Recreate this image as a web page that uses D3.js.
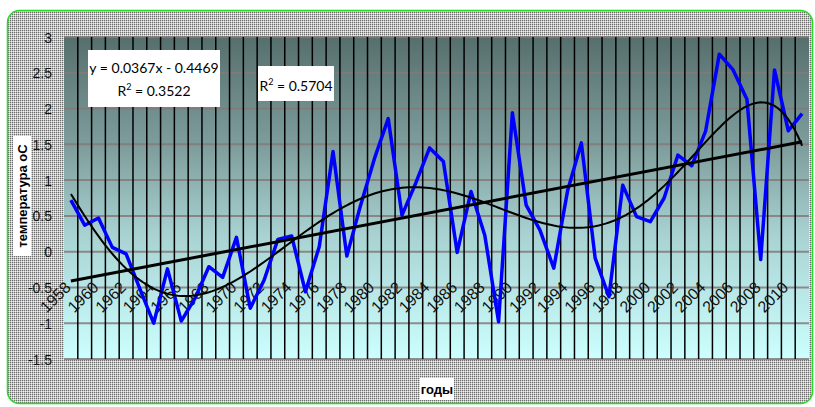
<!DOCTYPE html>
<html><head><meta charset="utf-8">
<script src="https://cdn.jsdelivr.net/npm/d3@7"></script>
<style>html,body{margin:0;padding:0;background:#fff;} svg{display:block;}</style>
</head><body>
<svg id="chart" width="815" height="407"></svg>
<script>
// ---- data ----
const years = d3.range(1958, 2012);
const temps = [0.72, 0.37, 0.47, 0.06, -0.03, -0.52, -1.0, -0.24, -0.97, -0.65,
  -0.21, -0.36, 0.20, -0.79, -0.40, 0.17, 0.22, -0.56, 0.07, 1.40,
  -0.06, 0.65, 1.30, 1.86, 0.51, 0.96, 1.45, 1.26, -0.01, 0.84,
  0.23, -0.98, 1.94, 0.65, 0.30, -0.23, 0.85, 1.52, -0.09, -0.63,
  0.93, 0.49, 0.42, 0.75, 1.35, 1.20, 1.68, 2.76, 2.54, 2.13,
  -0.11, 2.54, 1.69, 1.93];
const yTicks = [3, 2.5, 2, 1.5, 1, 0.5, 0, -0.5, -1, -1.5];
const xTickLabels = years.filter((y, i) => i % 2 === 0);
const linSlope = 0.0367, linIntercept = -0.4469;
const eqText1 = "y = 0.0367x - 0.4469";
const eqText2 = "0.3522";
const polyR2Text = "0.5704";
const polyOrder = 6;
const yLabel = "температура оС";
const xLabel = "годы";

// ---- layout ----
const svg = d3.select("#chart");
const plot = {left: 64, right: 809, top: 37, bottom: 359};
const x = d3.scaleBand().domain(years).range([plot.left, plot.right]).padding(0);
const xc = yr => x(yr) + x.bandwidth() / 2;
const xi = d3.scaleLinear().domain([1, years.length]).range([xc(years[0]), xc(years[years.length-1])]);
const y = d3.scaleLinear().domain([-1.5, 3]).range([plot.bottom, plot.top]);

const defs = svg.append("defs");
const pat = defs.append("pattern").attr("id", "dots").attr("width", 2).attr("height", 2)
  .attr("patternUnits", "userSpaceOnUse");
pat.append("rect").attr("width", 2).attr("height", 2).attr("fill", "#f2f2f2");
pat.append("rect").attr("x", 0).attr("y", 0).attr("width", 1).attr("height", 1).attr("fill", "#6c6c6c");
pat.append("rect").attr("x", 1).attr("y", 0).attr("width", 1).attr("height", 1).attr("fill", "#c4c4c4");
pat.append("rect").attr("x", 0).attr("y", 1).attr("width", 1).attr("height", 1).attr("fill", "#c4c4c4");

const grad = defs.append("linearGradient").attr("id", "bg").attr("x1", 0).attr("y1", 0).attr("x2", 0).attr("y2", 1);
[[0, "#566f6d"], [0.35, "#7f9f9e"], [0.62, "#a9d3d3"], [1, "#ccffff"]].forEach(s =>
  grad.append("stop").attr("offset", s[0]).attr("stop-color", s[1]));

// chart area
svg.append("rect").attr("x", 7.5).attr("y", 10.5).attr("width", 805).attr("height", 393)
  .attr("rx", 12).attr("fill", "url(#dots)").attr("stroke", "#22dd22").attr("stroke-width", 1.5);

// plot area
svg.append("rect").attr("x", plot.left).attr("y", plot.top)
  .attr("width", plot.right - plot.left).attr("height", plot.bottom - plot.top)
  .attr("fill", "url(#bg)");

// horizontal grid
svg.append("g").selectAll("line").data(yTicks).join("line")
  .attr("x1", plot.left).attr("x2", plot.right)
  .attr("y1", d => y(d)).attr("y2", d => y(d))
  .attr("stroke", "#857a7a").attr("stroke-width", 2).attr("opacity", 0.85);

// vertical grid (category boundaries)
const bounds = years.map(yr => x(yr)).concat([plot.right]);
svg.append("g").selectAll("line").data(bounds.slice(1, -1)).join("line")
  .attr("x1", d => d).attr("x2", d => d).attr("y1", plot.top).attr("y2", plot.bottom)
  .attr("stroke", "#000").attr("stroke-width", 1.5);

// y tick labels
svg.append("g").selectAll("text").data(yTicks).join("text")
  .attr("x", 52).attr("y", d => y(d)).attr("dy", "0.4em")
  .attr("text-anchor", "end").attr("font-family", "Liberation Sans, Arial, sans-serif")
  .attr("font-size", 14).attr("fill", "#111").text(d => d);

// x tick labels (axis crosses at -0.5)
const axisY = y(-0.5);
svg.append("g").selectAll("text").data(xTickLabels).join("text")
  .attr("transform", d => `translate(${xc(d) + 1},${axisY + 1}) rotate(-45)`)
  .attr("text-anchor", "end").attr("font-family", "Liberation Sans, Arial, sans-serif")
  .attr("font-size", 16).attr("fill", "#111").text(d => d);

// data line
const line = d3.line().x((d, i) => xc(years[i])).y(d => y(d));
svg.append("path").datum(temps).attr("d", line).attr("fill", "none")
  .attr("stroke", "#0000ff").attr("stroke-width", 3.5).attr("stroke-linejoin", "round");

// linear trend
const xs = d3.range(1, years.length + 1);
svg.append("line")
  .attr("x1", xi(1)).attr("y1", y(linSlope * 1 + linIntercept))
  .attr("x2", xi(years.length)).attr("y2", y(linSlope * years.length + linIntercept))
  .attr("stroke", "#000").attr("stroke-width", 3);

// polynomial trend (least squares fit of the data)
function polyfit(xv, yv, deg) {
  const m = (xv[0] + xv[xv.length-1]) / 2, s = (xv[xv.length-1] - xv[0]) / 2;
  const t = xv.map(v => (v - m) / s);
  const n = deg + 1;
  const A = Array.from({length: n}, () => new Array(n + 1).fill(0));
  for (let k = 0; k < t.length; k++) {
    const pw = [1]; for (let j = 1; j < 2 * n; j++) pw.push(pw[j-1] * t[k]);
    for (let r = 0; r < n; r++) {
      for (let c = 0; c < n; c++) A[r][c] += pw[r + c];
      A[r][n] += pw[r] * yv[k];
    }
  }
  for (let c = 0; c < n; c++) {
    let p = c; for (let r = c + 1; r < n; r++) if (Math.abs(A[r][c]) > Math.abs(A[p][c])) p = r;
    [A[c], A[p]] = [A[p], A[c]];
    for (let r = 0; r < n; r++) if (r !== c) {
      const f = A[r][c] / A[c][c];
      for (let k = c; k <= n; k++) A[r][k] -= f * A[c][k];
    }
  }
  const coef = A.map((row, i) => row[n] / row[i]);
  return v => { const tt = (v - m) / s; let r = 0; for (let i = n - 1; i >= 0; i--) r = r * tt + coef[i]; return r; };
}
const pf = polyfit(xs, temps, polyOrder);
const fine = d3.range(1, years.length + 0.001, 0.25);
svg.append("path").datum(fine)
  .attr("d", d3.line().x(v => xi(v)).y(v => y(pf(v))).curve(d3.curveLinear))
  .attr("fill", "none").attr("stroke", "#000").attr("stroke-width", 2);

// trend labels
const lbl = svg.append("g").attr("font-family", "Lato, Open Sans, sans-serif").attr("font-size", 14).attr("fill", "#000");
lbl.append("rect").attr("x", 88).attr("y", 50).attr("width", 132).attr("height", 57).attr("fill", "#fff");
lbl.append("text").attr("x", 154).attr("y", 73).attr("text-anchor", "middle").text(eqText1);
const t2 = lbl.append("text").attr("x", 154).attr("y", 96).attr("text-anchor", "middle");
t2.append("tspan").text("R");
t2.append("tspan").attr("font-size", 9).attr("dy", -6).text("2");
t2.append("tspan").attr("dy", 6).text(" = " + eqText2);

lbl.append("rect").attr("x", 258).attr("y", 66).attr("width", 76).attr("height", 35).attr("fill", "#fff");
const t3 = lbl.append("text").attr("x", 296).attr("y", 91).attr("text-anchor", "middle");
t3.append("tspan").text("R");
t3.append("tspan").attr("font-size", 9).attr("dy", -6).text("2");
t3.append("tspan").attr("dy", 6).text(" = " + polyR2Text);

// axis titles
const yt = svg.append("g").attr("transform", "translate(22,196) rotate(-90)");
yt.append("rect").attr("x", -60).attr("y", -9).attr("width", 120).attr("height", 18).attr("fill", "#fff");
yt.append("text").attr("text-anchor", "middle").attr("dy", "0.35em")
  .attr("font-family", "Liberation Sans, Arial, sans-serif").attr("font-weight", "bold").attr("font-size", 13)
  .text(yLabel);

const xt = svg.append("g").attr("transform", "translate(437,389)");
xt.append("rect").attr("x", -17).attr("y", -11).attr("width", 34).attr("height", 22).attr("fill", "#fff");
xt.append("text").attr("text-anchor", "middle").attr("dy", "0.35em")
  .attr("font-family", "Liberation Sans, Arial, sans-serif").attr("font-weight", "bold").attr("font-size", 13)
  .text(xLabel);
</script>
</body></html>
